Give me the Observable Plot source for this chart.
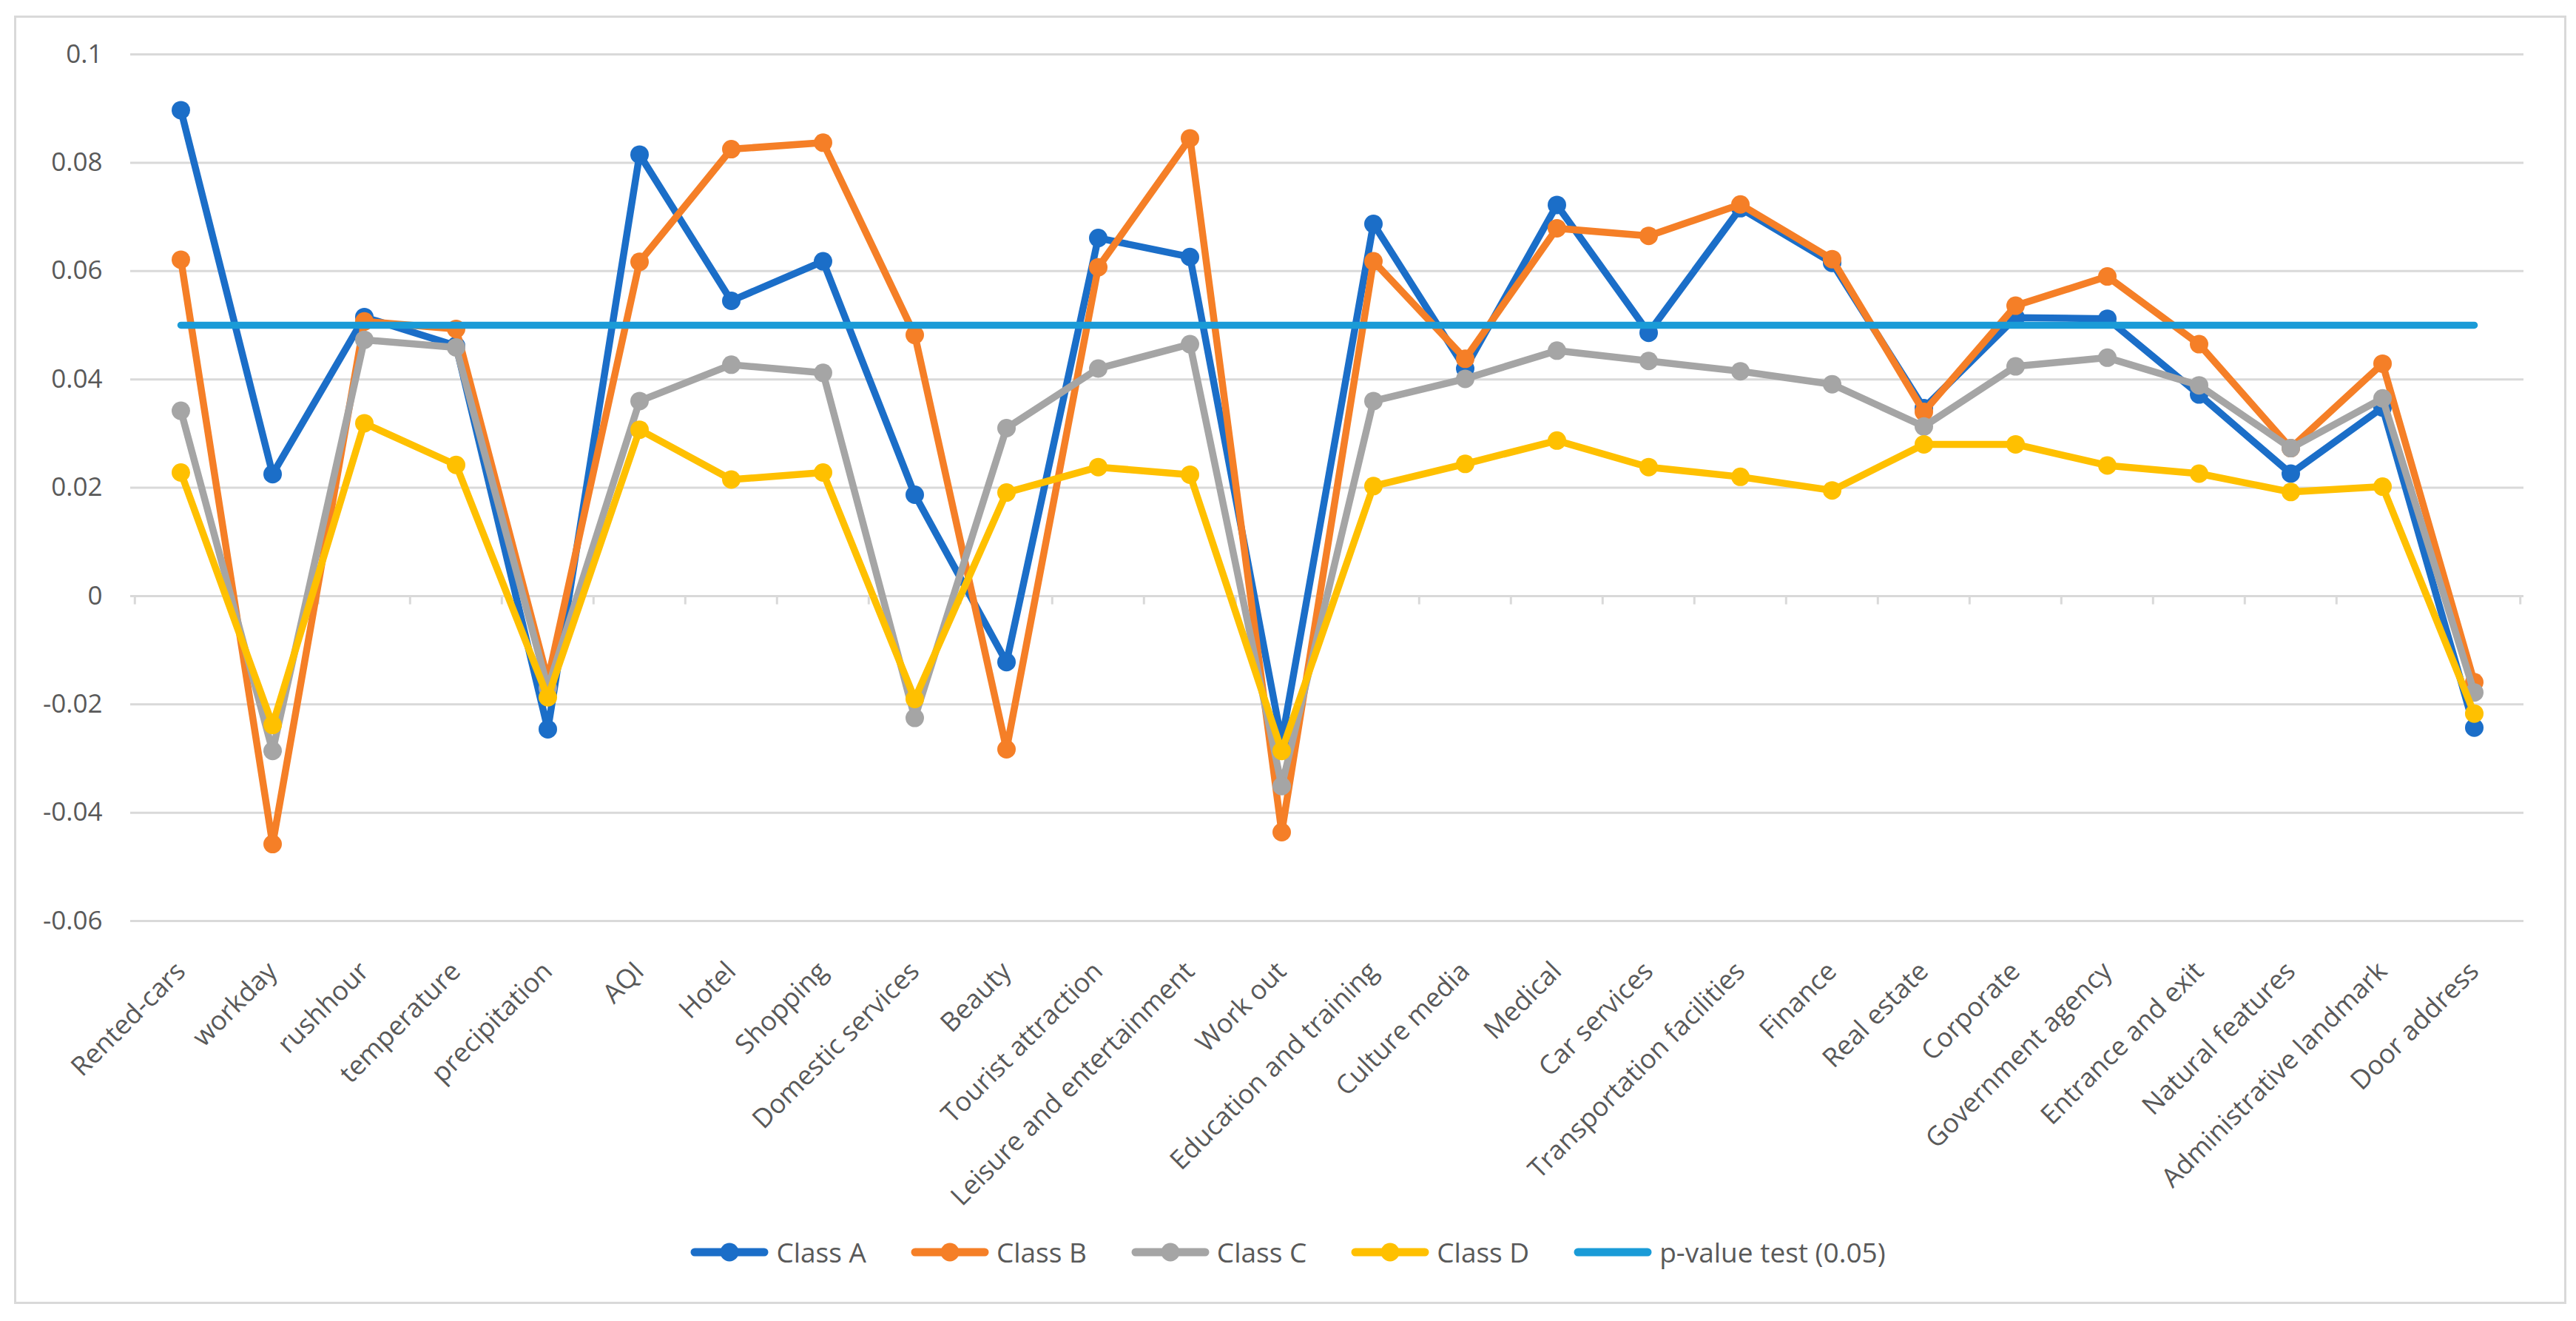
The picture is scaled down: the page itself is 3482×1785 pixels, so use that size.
<!DOCTYPE html>
<html>
<head>
<meta charset="utf-8">
<script src="https://cdn.jsdelivr.net/npm/d3@7"></script>
<script src="https://cdn.jsdelivr.net/npm/@observablehq/plot@0.6"></script>
<style>
  html, body { margin: 0; padding: 0; background: #ffffff; }
  #wrap { position: relative; width: 3482px; height: 1785px; overflow: hidden; background: #fff; }
  #frame { position: absolute; left: 19px; top: 21px; width: 3444px; height: 1735px; border: 3px solid #d9d9d9; box-sizing: content-box; }
  #chart { position: absolute; left: 0; top: 0; }
  #legend { position: absolute; left: 0; width: 3482px; top: 1666px; display: flex; justify-content: center; align-items: center; gap: 60px;
            font-family: "Open Sans", sans-serif; font-size: 37px; color: #595959; }
  .item { display: flex; align-items: center; gap: 10px; }
</style>
</head>
<body>
<div id="wrap">
  <div id="frame"></div>
  <div id="chart"></div>
  <div id="legend"></div>
</div>
<script>
const categories = ["Rented-cars","workday","rushhour","temperature","precipitation","AQI","Hotel","Shopping","Domestic services","Beauty","Tourist attraction","Leisure and entertainment","Work out","Education and training","Culture media","Medical","Car services","Transportation facilities","Finance","Real estate","Corporate","Government agency","Entrance and exit","Natural features","Administrative landmark","Door address"];

const classA = [0.0897, 0.0225, 0.0515, 0.0462, -0.0246, 0.0815, 0.0545, 0.0618, 0.0187, -0.0122, 0.0661, 0.0626, -0.0268, 0.0687, 0.0420, 0.0722, 0.0486, 0.0716, 0.0615, 0.0347, 0.0514, 0.0512, 0.0372, 0.0226, 0.0348, -0.0243];
const classB = [0.0621, -0.0458, 0.0507, 0.0493, -0.0155, 0.0617, 0.0825, 0.0837, 0.0482, -0.0283, 0.0607, 0.0845, -0.0436, 0.0618, 0.0438, 0.0679, 0.0665, 0.0723, 0.0622, 0.0340, 0.0536, 0.0590, 0.0465, 0.0273, 0.0429, -0.0159];
const classC = [0.0342, -0.0286, 0.0473, 0.0459, -0.0170, 0.0360, 0.0427, 0.0412, -0.0225, 0.0310, 0.0420, 0.0465, -0.0351, 0.0360, 0.0401, 0.0453, 0.0434, 0.0415, 0.0391, 0.0313, 0.0424, 0.0440, 0.0389, 0.0273, 0.0365, -0.0178];
const classD = [0.0228, -0.0238, 0.0319, 0.0242, -0.0187, 0.0307, 0.0215, 0.0228, -0.0190, 0.0191, 0.0238, 0.0224, -0.0286, 0.0203, 0.0244, 0.0287, 0.0238, 0.0220, 0.0195, 0.0280, 0.0280, 0.0241, 0.0226, 0.0192, 0.0202, -0.0217];
const pThreshold = 0.05;

const seriesNames = ["Class A", "Class B", "Class C", "Class D"];
const pName = "p-value test (0.05)";
const yTicks = [-0.06, -0.04, -0.02, 0, 0.02, 0.04, 0.06, 0.08, 0.1];
const yTickLabels = ["-0.06", "-0.04", "-0.02", "0", "0.02", "0.04", "0.06", "0.08", "0.1"];

const colors = {"Class A": "#1b6ec8", "Class B": "#f57f27", "Class C": "#a5a5a5", "Class D": "#ffc000"};
const pColor = "#1a9bd7";

const seriesValues = [classA, classB, classC, classD];
const rows = seriesNames.map((name, si) => categories.map((c, i) => ({series: name, category: c, value: seriesValues[si][i]})));
const pRows = [{category: categories[0], value: pThreshold}, {category: categories[categories.length - 1], value: pThreshold}];

const W = 3482, H = 1640;
const mL = 176, mR = 71, mT = 73, mB = 396;
const step = (W - mL - mR) / categories.length;
const gridColor = "#d9d9d9";
const lw = 9.5, rDot = 12.5;

const seriesMarks = rows.flatMap((data, si) => [
  Plot.line(data, {x: "category", y: "value", stroke: colors[seriesNames[si]], strokeWidth: lw, strokeLinejoin: "round", strokeLinecap: "round"}),
  Plot.dot(data, {x: "category", y: "value", r: rDot, fill: colors[seriesNames[si]], stroke: "none"})
]);

const chart = Plot.plot({
  width: W, height: H,
  marginLeft: mL, marginRight: mR, marginTop: mT, marginBottom: mB,
  style: {fontFamily: "Open Sans, sans-serif", color: "#595959", background: "transparent", overflow: "visible"},
  x: {type: "point", domain: categories, padding: 0.5, label: null},
  y: {domain: [-0.06, 0.1], label: null},
  marks: [
    Plot.ruleY(yTicks, {stroke: gridColor, strokeWidth: 3}),
    Plot.ruleX(categories, {x: d => d, y1: 0, y2: -0.0016, dx: -step / 2, stroke: gridColor, strokeWidth: 3}),
    Plot.ruleX([categories[categories.length - 1]], {x: d => d, y1: 0, y2: -0.0016, dx: step / 2, stroke: gridColor, strokeWidth: 3}),
    Plot.axisY({ticks: yTicks, tickFormat: d => yTickLabels[yTicks.indexOf(d)], tickSize: 0, tickPadding: 38, fontSize: 35, fill: "#595959"}),
    Plot.axisX({tickSize: 0, tickRotate: -45, tickPadding: 62, fontSize: 36, fill: "#595959"}),
    ...seriesMarks,
    Plot.line(pRows, {x: "category", y: "value", stroke: pColor, strokeWidth: lw, strokeLinecap: "round"})
  ]
});
document.getElementById("chart").appendChild(chart);

// legend
const legend = document.getElementById("legend");
const ns = "http://www.w3.org/2000/svg";
function swatch(color, marker) {
  const svg = document.createElementNS(ns, "svg");
  svg.setAttribute("width", 106); svg.setAttribute("height", 30);
  const line = document.createElementNS(ns, "line");
  line.setAttribute("x1", 6); line.setAttribute("x2", 100); line.setAttribute("y1", 15); line.setAttribute("y2", 15);
  line.setAttribute("stroke", color); line.setAttribute("stroke-width", 11); line.setAttribute("stroke-linecap", "round");
  svg.appendChild(line);
  if (marker) {
    const c = document.createElementNS(ns, "circle");
    c.setAttribute("cx", 53); c.setAttribute("cy", 15); c.setAttribute("r", 12.5); c.setAttribute("fill", color);
    svg.appendChild(c);
  }
  return svg;
}
[...seriesNames.map(n => [n, colors[n], true]), [pName, pColor, false]].forEach(([name, color, marker]) => {
  const item = document.createElement("div");
  item.className = "item";
  item.appendChild(swatch(color, marker));
  const t = document.createElement("span");
  t.textContent = name;
  item.appendChild(t);
  legend.appendChild(item);
});
</script>
</body>
</html>
